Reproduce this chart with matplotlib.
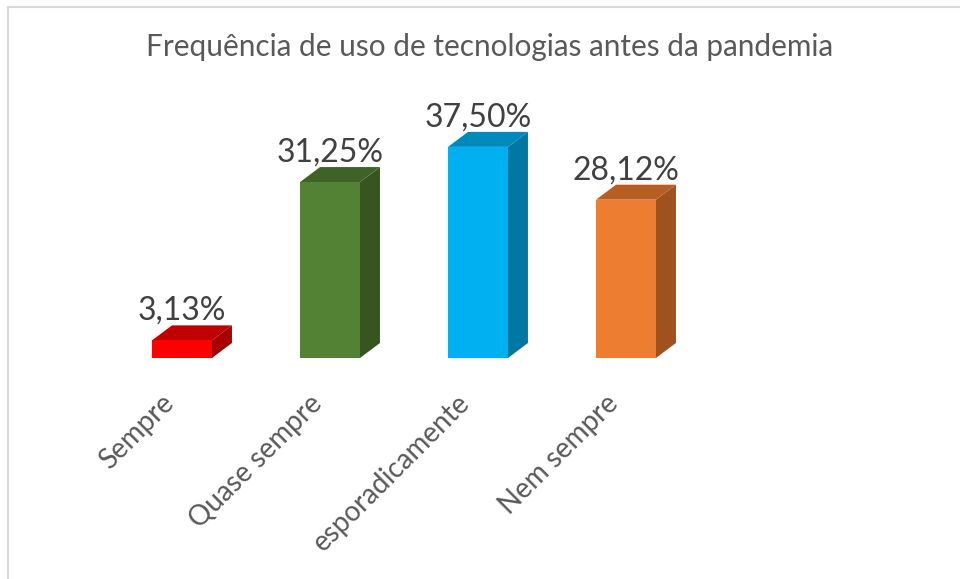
import matplotlib
matplotlib.use("Agg")
import matplotlib.pyplot as plt
from matplotlib.patches import Polygon
from matplotlib.lines import Line2D

categories = ["Sempre", "Quase sempre", "esporadicamente", "Nem sempre"]
values = [3.13, 31.25, 37.50, 28.12]
value_labels = ["3,13%", "31,25%", "37,50%", "28,12%"]
title = "Frequência de uso de tecnologias antes da pandemia"

front_colors = ["#FF0000", "#548235", "#00B0F0", "#ED7D31"]
side_colors = ["#A80000", "#37561F", "#0078A4", "#A0521E"]
top_colors = ["#C00000", "#3F6327", "#0089BB", "#B85E22"]

plt.rcParams['font.family'] = ['Lato', 'DejaVu Sans']

W, H = 960, 579
fig = plt.figure(figsize=(W / 100, H / 100), dpi=100)

# axes in pixel geometry
left_px, base_px, width_px = 108, 358, 592
ymax = 40
px_per_unit = 5.63
height_px = ymax * px_per_unit
ax = fig.add_axes([left_px / W, (H - base_px) / H, width_px / W, height_px / H])
ax.set_xlim(-0.5, 3.5)
ax.set_ylim(0, ymax)
ax.axis("off")

bw = 0.405
dx = 20 / 148.0
dy = 15 / px_per_unit
xs = list(range(len(categories)))

for i, v in enumerate(values):
    x0 = xs[i] - bw / 2
    x1 = xs[i] + bw / 2
    # side face
    ax.add_patch(Polygon([(x1, 0), (x1 + dx, dy), (x1 + dx, v + dy), (x1, v)],
                         closed=True, facecolor=side_colors[i], edgecolor="none", clip_on=False))
    # top face
    ax.add_patch(Polygon([(x0, v), (x1, v), (x1 + dx, v + dy), (x0 + dx, v + dy)],
                         closed=True, facecolor=top_colors[i], edgecolor="none", clip_on=False))
ax.bar(xs, values, width=bw, color=front_colors, edgecolor="none", clip_on=False)

for i, v in enumerate(values):
    ax.text(xs[i], v + dy - 0.1, value_labels[i], ha="center", va="bottom",
            fontsize=23, color="#404040", clip_on=False)
    ax.text(xs[i] - 0.08, -7.3, categories[i], ha="right", va="center", rotation=45,
            rotation_mode="anchor", fontsize=20, color="#595959", clip_on=False)

fig.text(490 / W, 1 - 47 / H, title, ha="center", va="center", fontsize=21.4, color="#595959")

# chart frame
fig.add_artist(Line2D([8 / W, 8 / W], [0, 1 - 7 / H], transform=fig.transFigure, color="#D9D9D9", lw=1.5))
fig.add_artist(Line2D([8 / W, 1], [1 - 7 / H, 1 - 7 / H], transform=fig.transFigure, color="#D9D9D9", lw=1.5))

fig.savefig("out.png", dpi=100)
